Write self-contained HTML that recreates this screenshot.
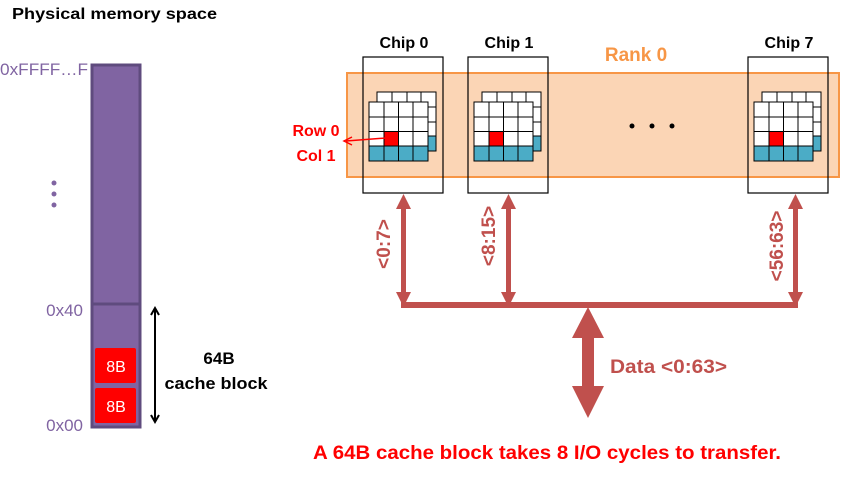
<!DOCTYPE html>
<html><head><meta charset="utf-8"><style>
body{margin:0;background:#fff;}
svg{display:block;font-family:"Liberation Sans",sans-serif;}
</style></head><body>
<svg width="855" height="493" viewBox="0 0 855 493">
<defs>
<marker id="ah" markerWidth="10" markerHeight="10" refX="8" refY="5" orient="auto-start-reverse" markerUnits="userSpaceOnUse"><path d="M1,1 L8,5 L1,9" fill="none" stroke="#000" stroke-width="2"/></marker>
<g id="grid">
  <rect x="8" y="-10" width="59" height="59" fill="#fff" stroke="#000"/>
  <rect x="8" y="34" width="59" height="15" fill="#4BACC6" stroke="#000"/>
  <path d="M8,5 H67 M8,20 H67 M8,34 H67 M23,-10 V49 M38,-10 V49 M52,-10 V49" stroke="#000" stroke-width="1" fill="none"/>
  <rect x="0" y="0" width="59" height="59" fill="#fff" stroke="#000"/>
  <rect x="0" y="44" width="59" height="15" fill="#4BACC6" stroke="#000"/>
  <rect x="15" y="29" width="15" height="15" fill="#f00"/>
  <path d="M0,15 H59 M0,29.5 H59 M0,44 H59 M15,0 V59 M29.5,0 V59 M44,0 V59" stroke="#000" stroke-width="1" fill="none"/>
</g>
</defs>
<text x="12" y="19" font-size="16" font-weight="bold" fill="#000" textLength="205" lengthAdjust="spacingAndGlyphs">Physical memory space</text>
<rect x="92" y="65" width="48" height="362" fill="#8064A2" stroke="#5F4B7E" stroke-width="3"/>
<line x1="92" y1="304" x2="140" y2="304" stroke="#5F4B7E" stroke-width="3"/>
<rect x="95" y="348" width="41" height="35" rx="2" fill="#f00"/>
<rect x="95" y="388" width="41" height="35" rx="2" fill="#f00"/>
<text x="116" y="372" font-size="16" fill="#fff" text-anchor="middle">8B</text>
<text x="116" y="412" font-size="16" fill="#fff" text-anchor="middle">8B</text>
<g fill="#8064A2" font-size="17">
<text x="0" y="75" textLength="88" lengthAdjust="spacingAndGlyphs">0xFFFF…F</text>
<text x="83" y="316" text-anchor="end">0x40</text>
<text x="83" y="431" text-anchor="end">0x00</text>
<circle cx="54" cy="183" r="2.5"/><circle cx="54" cy="194" r="2.5"/><circle cx="54" cy="205" r="2.5"/>
</g>
<line x1="155" y1="308" x2="155" y2="422" stroke="#000" stroke-width="2" marker-start="url(#ah)" marker-end="url(#ah)"/>
<text x="219" y="364" font-size="17" font-weight="bold" text-anchor="middle">64B</text>
<text x="216" y="389" font-size="17" font-weight="bold" text-anchor="middle" textLength="103" lengthAdjust="spacingAndGlyphs">cache block</text>

<rect x="347" y="73" width="492" height="104" fill="#FBD5B5" stroke="#F79646" stroke-width="2"/>
<text x="636" y="61" font-size="19" font-weight="bold" fill="#F79646" text-anchor="middle">Rank 0</text>
<g fill="none" stroke="#000" stroke-width="1.2">
<rect x="363" y="57" width="80" height="136"/>
<rect x="468" y="57" width="80" height="136"/>
<rect x="748" y="57" width="80" height="136"/>
</g>
<g font-size="16" font-weight="bold" text-anchor="middle">
<text x="404" y="48">Chip 0</text><text x="509" y="48">Chip 1</text><text x="789" y="48">Chip 7</text>
</g>
<use href="#grid" x="369" y="102"/>
<use href="#grid" x="474" y="102"/>
<use href="#grid" x="754" y="102"/>
<g fill="#000"><circle cx="632" cy="126" r="2.5"/><circle cx="652" cy="126" r="2.5"/><circle cx="672" cy="126" r="2.5"/></g>
<line x1="386" y1="138" x2="346" y2="141" stroke="#f00" stroke-width="1.5"/>
<path d="M352,137 L344,141 L352,145" fill="none" stroke="#f00" stroke-width="1.5"/>
<g fill="#f00" font-size="16" font-weight="bold" text-anchor="middle">
<text x="316" y="136">Row 0</text><text x="316" y="161">Col 1</text>
</g>

<g fill="#C0504D">
<rect x="401" y="302" width="397" height="6"/>
<rect x="401" y="205" width="5" height="92"/>
<path d="M403.5,194 L396,209 L411,209Z M403.5,307 L396,292 L411,292Z"/>
<rect x="506" y="205" width="5" height="92"/>
<path d="M508.5,194 L501,209 L516,209Z M508.5,307 L501,292 L516,292Z"/>
<rect x="793" y="205" width="5" height="92"/>
<path d="M795.5,194 L788,209 L803,209Z M795.5,307 L788,292 L803,292Z"/>
<rect x="582" y="336" width="12" height="56"/>
<path d="M588,307 L572,338 L604,338Z M588,418 L572,386 L604,386Z"/>
</g>
<g fill="#C0504D" font-size="19" font-weight="bold" text-anchor="middle">
<text transform="translate(390,244) rotate(-90)">&lt;0:7&gt;</text>
<text transform="translate(495,236) rotate(-90)">&lt;8:15&gt;</text>
<text transform="translate(783,246) rotate(-90)">&lt;56:63&gt;</text>
<text x="610" y="373" text-anchor="start" font-size="19" textLength="117" lengthAdjust="spacingAndGlyphs">Data &lt;0:63&gt;</text>
</g>
<text x="547" y="459" font-size="19" font-weight="bold" fill="#f00" text-anchor="middle" textLength="468" lengthAdjust="spacingAndGlyphs">A 64B cache block takes 8 I/O cycles to transfer.</text>
</svg>
</body></html>
